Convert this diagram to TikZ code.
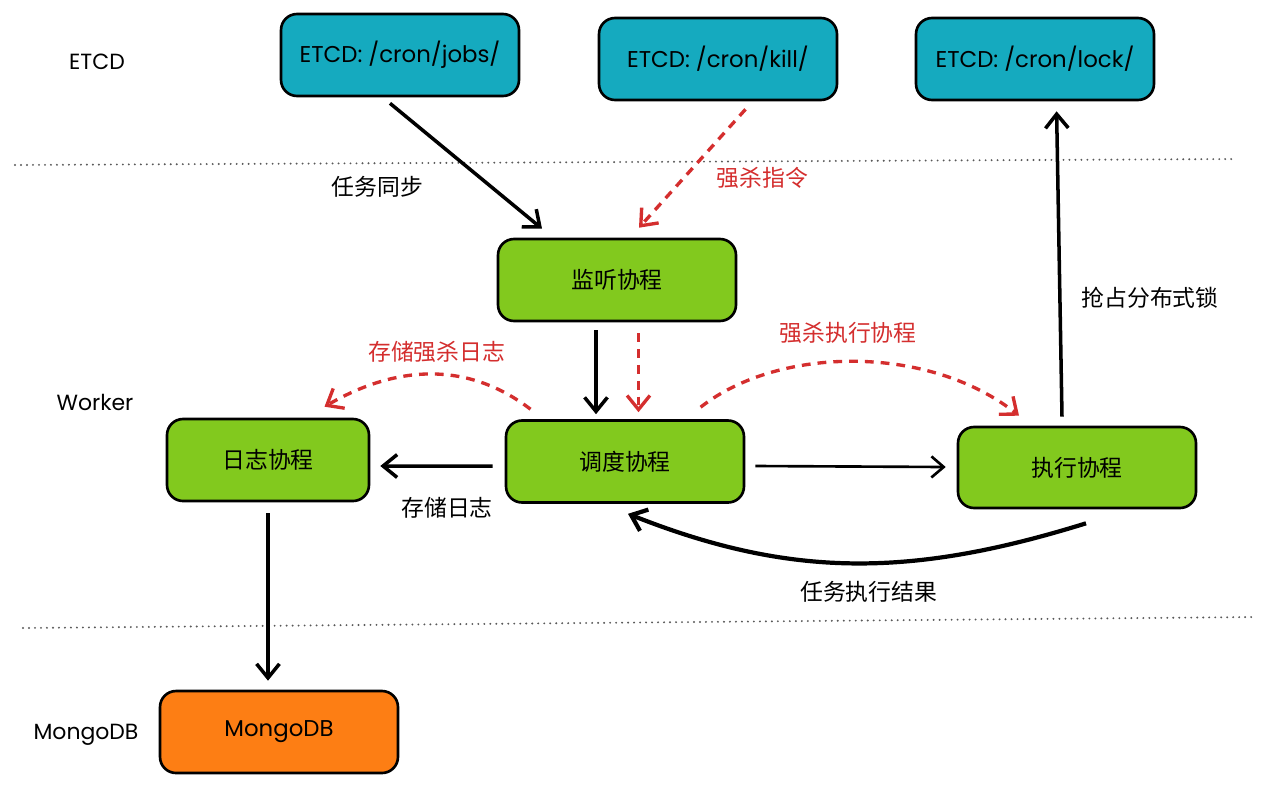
\documentclass[tikz,border=0pt]{standalone}
\usepackage{fontspec}
\setmainfont{Poppins}
\newfontfamily\cjk{Noto Sans CJK SC}
\usetikzlibrary{arrows.meta,calc}
\definecolor{etcdc}{HTML}{15AABF}
\definecolor{greenc}{HTML}{82C91E}
\definecolor{orangec}{HTML}{FD7E14}
\definecolor{redc}{HTML}{D42E2E}
\begin{document}
\begin{tikzpicture}[x=0.02cm,y=-0.02cm,
  box/.style={draw=black, line width=1.5pt, rounded corners=0.32cm, minimum width=4.76cm, minimum height=1.64cm, inner sep=0pt, font=\fontsize{13}{15}\selectfont},
  etcd/.style={box, fill=etcdc},
  grn/.style={box, fill=greenc, font=\cjk\fontsize{13}{15}\selectfont},
  org/.style={box, fill=orangec},
  conn/.style={draw=black, line width=2pt, -{Straight Barb[length=8pt,width=13pt]}},
  thinconn/.style={draw=black, line width=1.5pt, -{Straight Barb[length=7pt,width=12pt]}},
  killc/.style={conn, draw=redc, line width=1.9pt, dash pattern=on 5pt off 4pt},
  lbl/.style={font=\cjk\fontsize{13}{15}\selectfont, inner sep=0pt},
  rlbl/.style={lbl, text=redc},
  lane/.style={font=\fontsize{12.5}{15}\selectfont, inner sep=0pt},
  sepline/.style={draw=black!65, line width=1.2pt, dash pattern=on 0.01pt off 3.4pt, line cap=round}
]
\useasboundingbox (0,0) rectangle (1271,802);
\fill[white] (0,0) rectangle (1271,802);

% separators
\draw[sepline] (15,165) -- (1237,159);
\draw[sepline] (23,628) -- (1257,617);

% lane labels
\node[lane] (lE) at (97,62) {ETCD};
\node[lane] (lW) at (95,402) {Worker};
\node[lane] (lM) at (86,735) {MongoDB};

% boxes
\node[etcd] (jobs) at (400,55) {ETCD: /cron/jobs/};
\node[etcd] (killn) at (718,59) {ETCD: /cron/kill/};
\node[etcd] (lock) at (1035,59) {ETCD: /cron/lock/};
\node[grn] (mon) at (617,280) {监听协程};
\node[grn] (sched) at (625,461.5) {调度协程};
\node[grn, minimum width=4.04cm] (logn) at (268,460) {日志协程};
\node[grn, minimum height=1.62cm] (exec) at (1077,467.5) {执行协程};
\node[org] (mongo) at (279,732) {MongoDB};

% connectors
\draw[conn] ($(jobs.south)+(-10,6)$) -- ($(mon.north)+(-75,-9)$);
\draw[killc] ($(killn.south)+(27.5,8)$) -- ($(mon.north)+(22,-10)$);
\draw[conn] ($(mon.south)+(-21,8)$) -- ($(sched.north)+(-29,-5)$);
\draw[killc] ($(mon.south)+(21.5,11)$) -- ($(sched.north)+(13.5,-7)$);
\draw[conn] ($(sched.west)+(-12,4.5)$) -- ($(logn.east)+(10,6)$);
\draw[thinconn] ($(sched.east)+(10,4.5)$) -- ($(exec.west)+(-11,-0.5)$);
\draw[killc] ($(sched.north)+(-94.5,-10)$) .. controls (470,363) and (400,363) .. ($(logn.north)+(56.5,-11)$);
\draw[killc] ($(sched.north)+(75.6,-12)$) .. controls (780,345) and (930,345) .. ($(exec.north)+(-58,-10)$);
\draw[conn, line width=2.4pt] ($(exec.south)+(9,14)$) .. controls (910,578) and (790,578) .. ($(sched.south)+(3,10)$);
\draw[conn] ($(exec.north)+(-15,-9)$) -- ($(lock.south)+(21.6,10)$);
\draw[conn] ($(logn.south)+(0,11)$) -- ($(mongo.north)+(-11,-9)$);

% labels
\node[lbl] (t1) at (377.5,187) {任务同步};
\node[rlbl] (t2) at (762.6,178) {强杀指令};
\node[lbl] (t3) at (1150,298) {抢占分布式锁};
\node[rlbl] (t4) at (436.7,352) {存储强杀日志};
\node[lbl] (t5) at (447,508) {存储日志};
\node[rlbl] (t6) at (848,333) {强杀执行协程};
\node[lbl] (t7) at (868.7,592) {任务执行结果};
\end{tikzpicture}
\end{document}
